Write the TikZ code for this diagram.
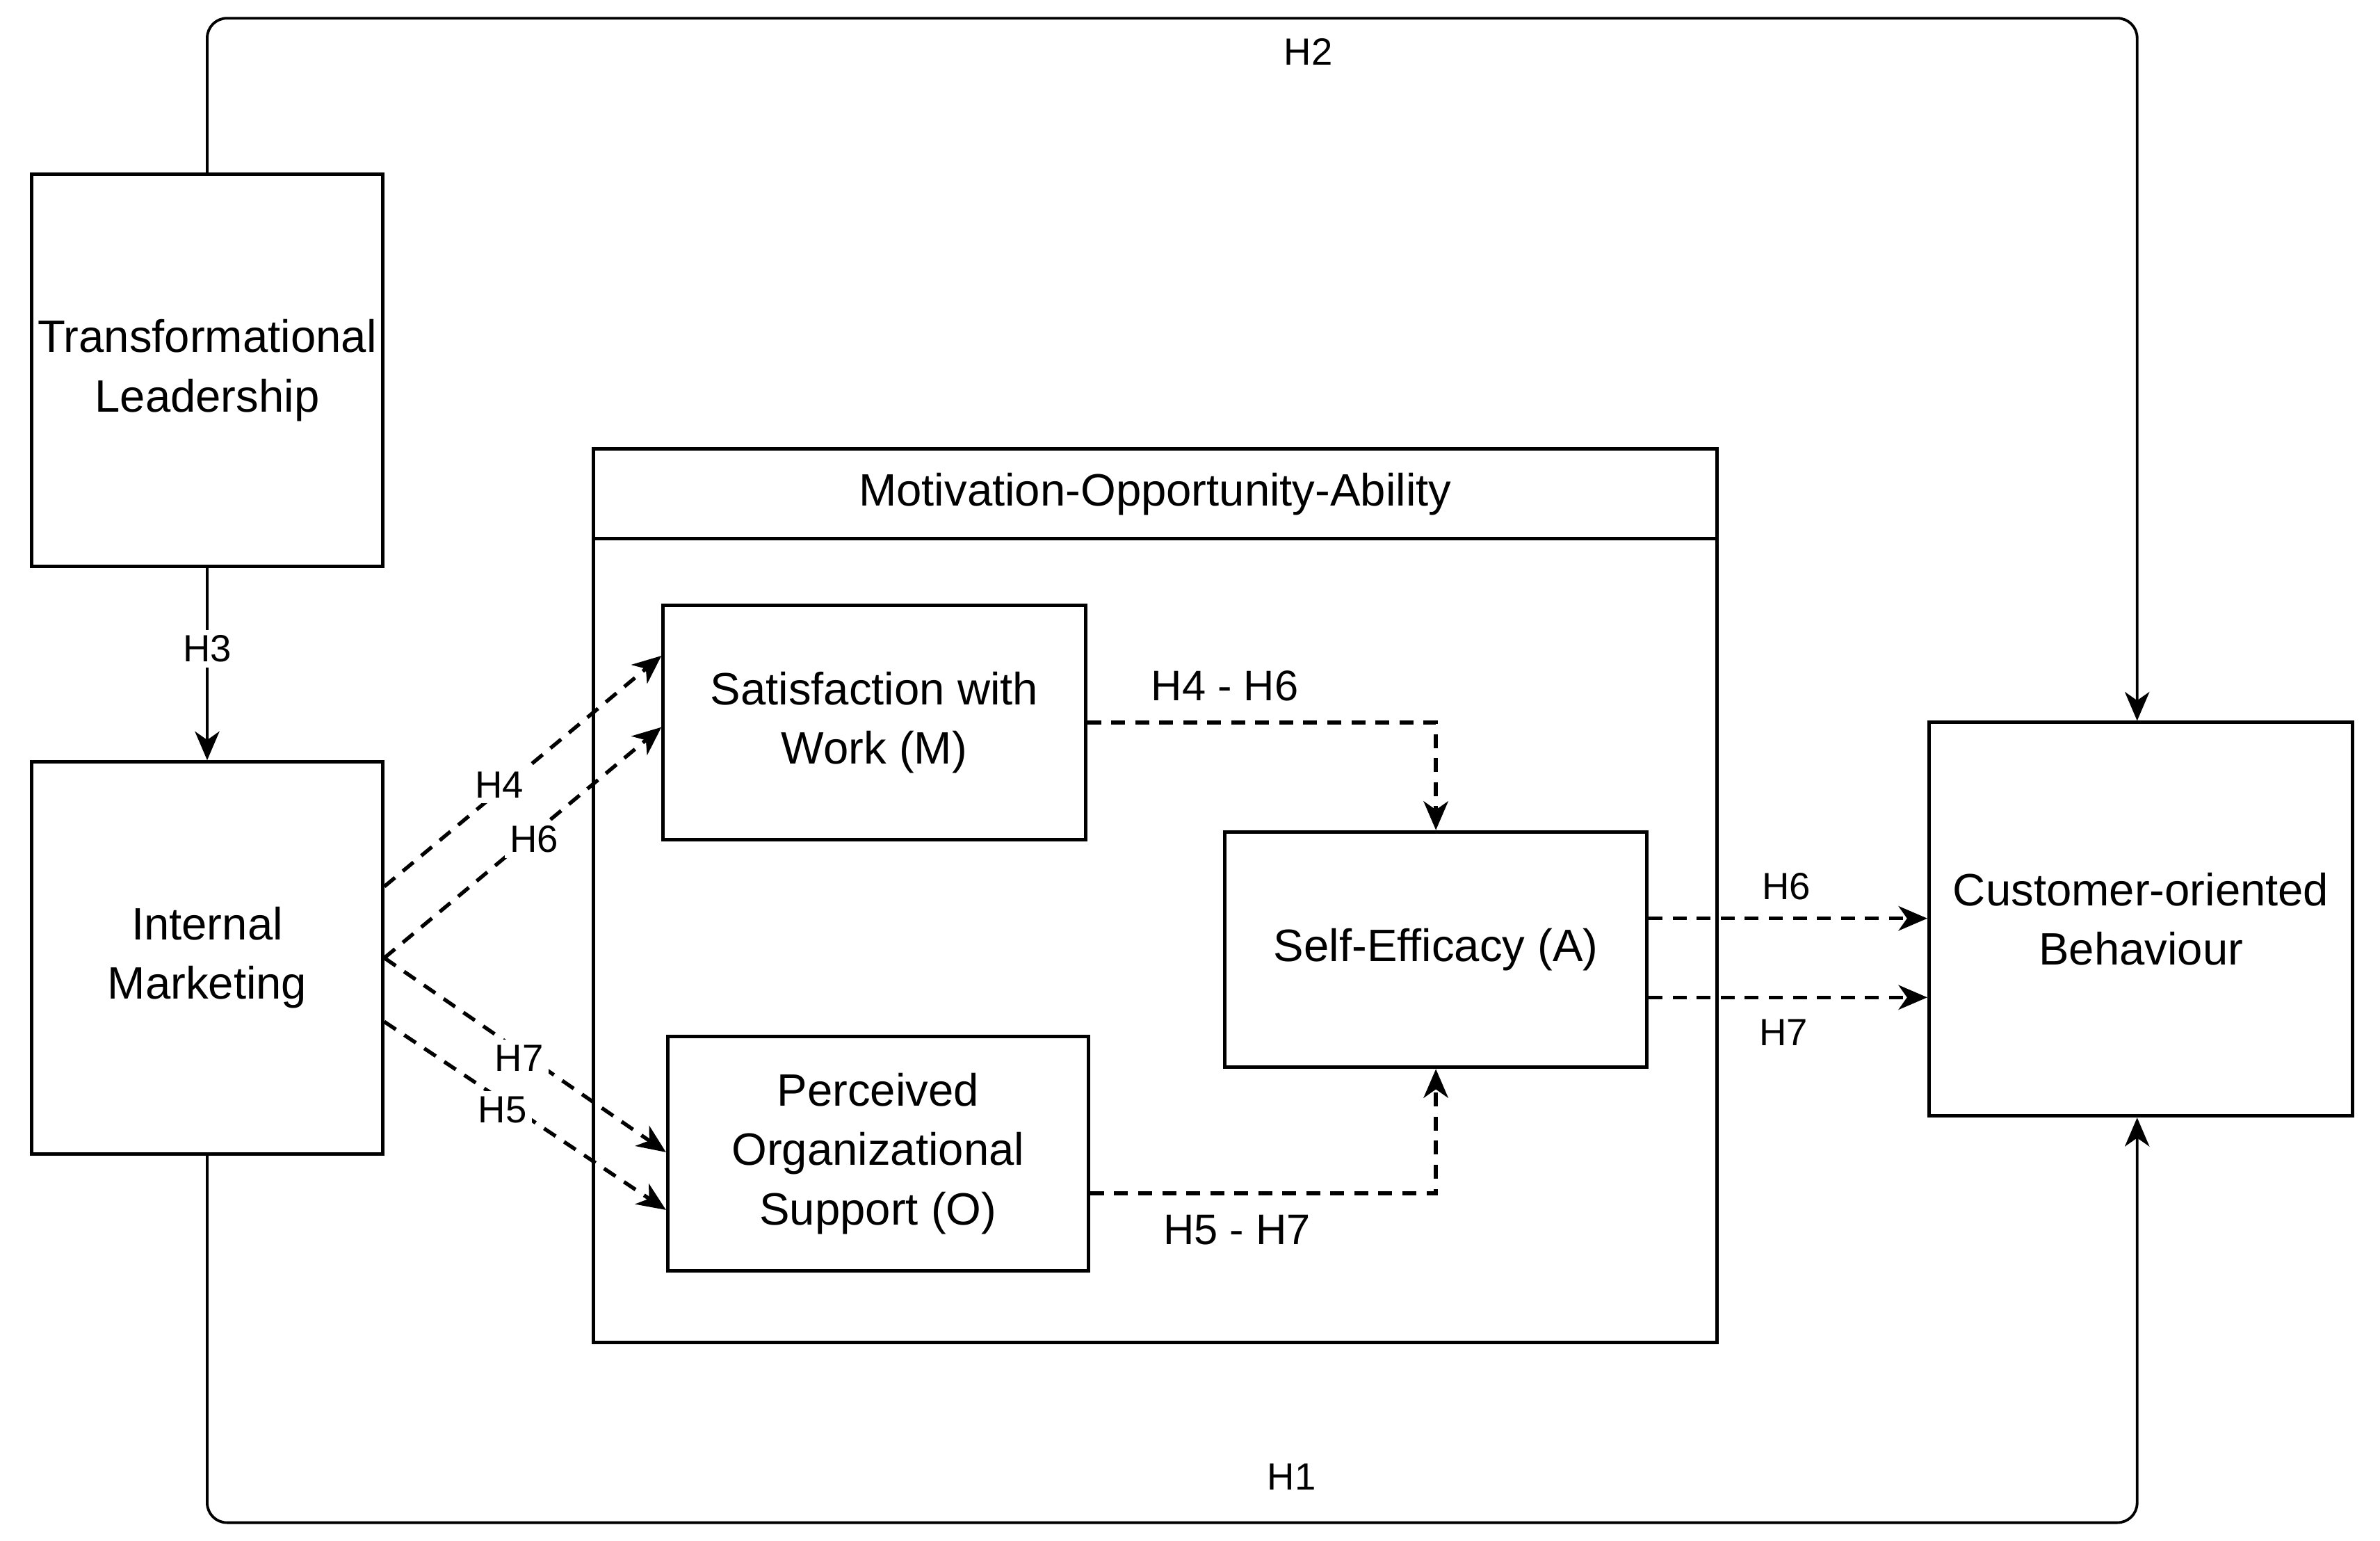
\documentclass[tikz,border=0pt]{standalone}
\usepackage{fontspec}
\setmainfont{Liberation Sans}
\usetikzlibrary{arrows.meta,calc}
\begin{document}
\begin{tikzpicture}[x=0.01cm,y=-0.01cm,
  box/.style={draw,line width=0.65pt,inner sep=0pt,align=center,font=\fontsize{8.5}{11.1}\selectfont},
  hlab/.style={font=\fontsize{7.1}{8}\selectfont,inner sep=1pt},
  hlabw/.style={hlab,fill=white},
  biglab/.style={font=\fontsize{8}{9}\selectfont,inner sep=1pt},
  tip/.style={-{Stealth[length=5.4pt,width=4.6pt,inset=1.6pt]}},
  solidcon/.style={tip,line width=0.5pt},
  dashcon/.style={tip,line width=0.7pt,dash pattern=on 2.6pt off 1.9pt}
]
\useasboundingbox (0,0) rectangle (1568,1015);
% boxes
\node[box,minimum width=2.31cm,minimum height=2.58cm] (TL) at (136.5,244) {Transformational\\Leadership};
\node[box,minimum width=2.31cm,minimum height=2.58cm] (IM) at (136.5,631) {Internal\\Marketing};
\node[box,minimum width=7.40cm,minimum height=5.88cm] (MOA) at (761,590) {};
\coordinate (hdl) at (391,355);
\coordinate (hdr) at (1131,355);
\draw[line width=0.65pt] (hdl) -- (hdr);
\node[font=\fontsize{8.5}{11.1}\selectfont] (MOAt) at (761,325.5) {Motivation-Opportunity-Ability};
\node[box,minimum width=2.78cm,minimum height=1.54cm] (SW) at (576,476) {Satisfaction with\\Work (M)};
\node[box,minimum width=2.77cm,minimum height=1.54cm] (POS) at (578.5,760) {Perceived\\Organizational\\Support (O)};
\node[box,minimum width=2.78cm,minimum height=1.55cm] (SE) at (946,625.5) {Self-Efficacy (A)};
\node[box,minimum width=2.79cm,minimum height=2.59cm] (CB) at (1410.5,605.5) {Customer-oriented\\Behaviour};
% helper coordinates
\coordinate (topy) at (0,12);
\coordinate (boty) at (0,1003);
% H3
\draw[solidcon] (TL.south) -- node[hlabw,pos=0.42] (h3) {H3} (IM.north);
% H2
\draw[solidcon,rounded corners=0.13cm] (TL.north) |- ($(topy -| CB.north)+(-2.5,0)$) -- ([xshift=-0.025cm]CB.north);
\node[hlab] (h2) at (862,34) {H2};
% H1
\draw[solidcon,rounded corners=0.13cm] (IM.south) |- ($(boty -| CB.south)+(-2.5,0)$) -- ([xshift=-0.025cm]CB.south);
\node[hlab] (h1) at (851,973) {H1};
% IM -> SW / POS
\draw[dashcon] ([yshift=0.47cm]IM.east) -- ([yshift=0.44cm]SW.west);
\draw[dashcon] (IM.east) -- ([yshift=-0.03cm]SW.west);
\draw[dashcon] (IM.east) -- ([yshift=0.01cm]POS.west);
\draw[dashcon] ([yshift=-0.42cm]IM.east) -- ([yshift=-0.37cm]POS.west);
\node[hlabw] (h4) at (329,517) {H4};
\node[hlabw] (h6) at (352,553) {H6};
\node[hlabw] (h7) at (342,697) {H7};
\node[hlabw] (h5) at (331,731) {H5};
% SW -> SE, POS -> SE
\draw[dashcon] (SW.east) -| (SE.north);
\node[biglab] (h46) at (807,452) {H4 - H6};
\draw[dashcon] ([yshift=-0.26cm]POS.east) -| (SE.south);
\node[biglab] (h57) at (815,810) {H5 - H7};
% SE -> CB
\coordinate (s6) at ([yshift=0.205cm]SE.east);
\coordinate (s7) at ([yshift=-0.315cm]SE.east);
\draw[dashcon] (s6) -- (s6 -| CB.west);
\draw[dashcon] (s7) -- (s7 -| CB.west);
\node[hlab] (h6r) at (1177,584) {H6};
\node[hlab] (h7r) at (1175,680) {H7};
\end{tikzpicture}
\end{document}
